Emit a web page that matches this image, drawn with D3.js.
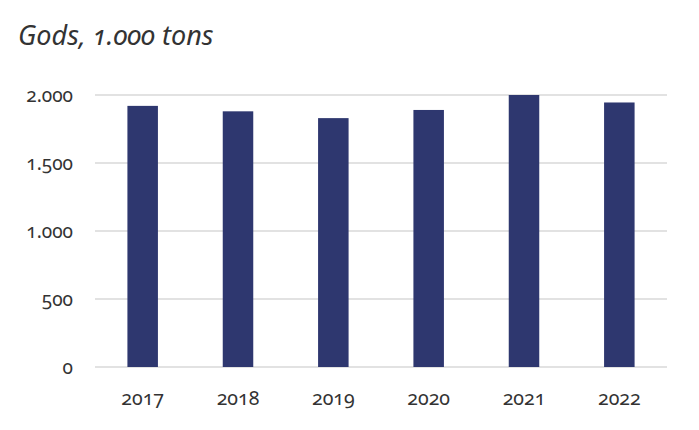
<!DOCTYPE html>
<html>
<head>
<meta charset="utf-8">
<script src="https://cdn.jsdelivr.net/npm/d3@7"></script>
<style>
  body { margin: 0; background: #fff; }
  text { font-family: "Noto Sans", Lato, sans-serif; font-variant-numeric: oldstyle-nums; font-feature-settings: "onum" 1; fill: #333; }
</style>
</head>
<body>
<div class="chart"></div>
<script>
var years = ["2017", "2018", "2019", "2020", "2021", "2022"];
var tons = [1920, 1880, 1830, 1890, 2000, 1945];
var yTicks = [0, 500, 1000, 1500, 2000];

var svgWidth = 699, svgHeight = 430;
var margin = { top: 95, right: 32, bottom: 63, left: 95 };
var width = svgWidth - margin.left - margin.right;
var height = svgHeight - margin.top - margin.bottom;

var svg = d3.select(".chart").append("svg")
  .attr("width", svgWidth)
  .attr("height", svgHeight);

svg.append("text")
  .attr("x", 18)
  .attr("y", 45)
  .attr("font-size", 27)
  .attr("font-style", "italic")
  .text("Gods, 1.000 tons");

var g = svg.append("g").attr("transform", `translate(${margin.left}, ${margin.top})`);

var x = d3.scaleBand().domain(years).range([0, width]).paddingInner(0.68).paddingOuter(0.34);
var y = d3.scaleLinear().domain([0, 2000]).range([height, 0]);

var fmt = d => d3.format(",")(d).replace(/,/g, ".");

// gridlines
g.selectAll(".grid").data(yTicks).enter().append("line")
  .attr("x1", 0).attr("x2", width)
  .attr("y1", d => y(d)).attr("y2", d => y(d))
  .attr("stroke", "#d9d9d9").attr("stroke-width", 1.5);

// y labels
g.selectAll(".ylab").data(yTicks).enter().append("text")
  .attr("x", -22)
  .attr("y", d => y(d))
  .attr("dy", "0.35em")
  .attr("text-anchor", "end")
  .attr("font-size", 19)
  .text(fmt);

// bars
g.selectAll("rect").data(tons).enter().append("rect")
  .attr("x", (d, i) => x(years[i]))
  .attr("y", d => y(d))
  .attr("width", x.bandwidth())
  .attr("height", d => height - y(d))
  .attr("fill", "#2e376f");

// x labels
g.selectAll(".xlab").data(years).enter().append("text")
  .attr("x", d => x(d) + x.bandwidth() / 2)
  .attr("y", height + 31)
  .attr("dy", "0.35em")
  .attr("text-anchor", "middle")
  .attr("font-size", 19.5)
  .text(d => d);
</script>
</body>
</html>
